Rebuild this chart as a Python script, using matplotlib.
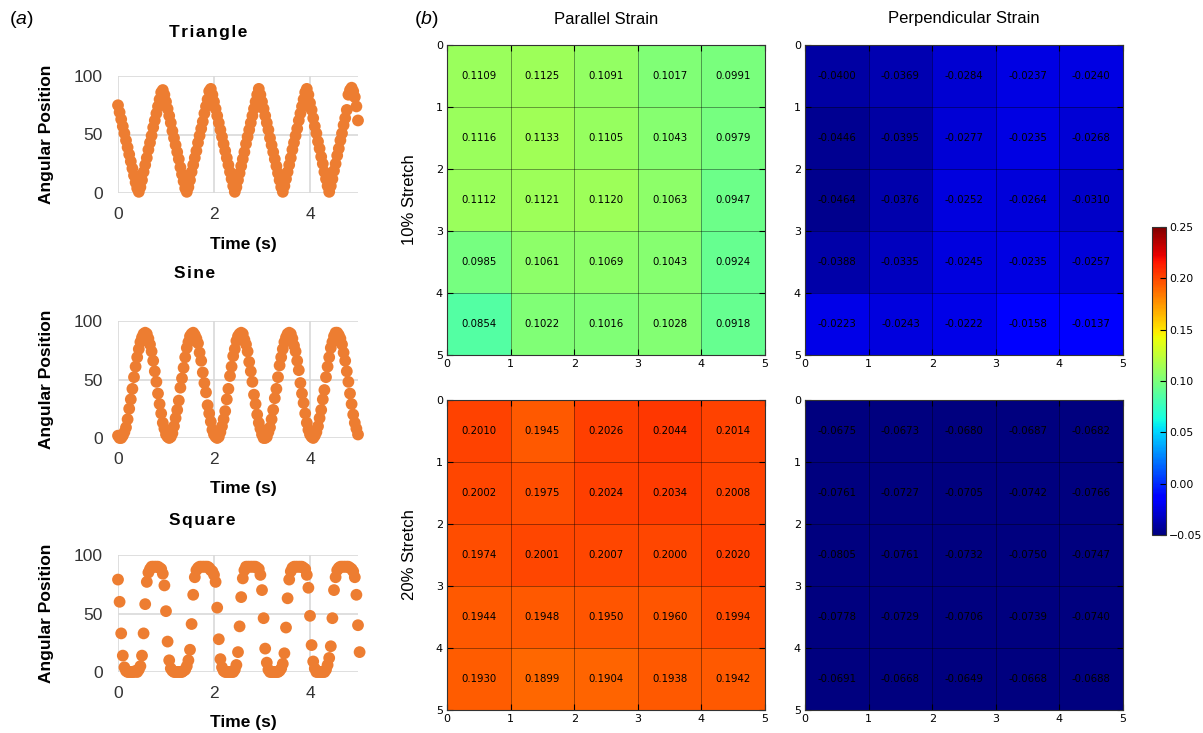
import matplotlib
matplotlib.use('Agg')
import matplotlib.pyplot as plt
import numpy as np

plt.rcParams['mathtext.fontset'] = 'custom'
plt.rcParams['mathtext.rm'] = 'Liberation Sans'
plt.rcParams['mathtext.it'] = 'Liberation Sans:italic'

# angular position samples, 30 frames per second
fps = 30.0
triangle = [75, 69, 63, 57, 51, 45, 39, 33, 27, 21, 15, 9, 4, 1,
            5, 11, 18, 24, 30, 37, 43, 49, 56, 62, 68, 74, 80, 86, 88,
            84, 78, 72, 66, 60, 53, 47, 41, 35, 29, 22, 16, 10, 4, 1,
            5, 11, 18, 24, 30, 36, 43, 49, 55, 61, 68, 74, 80, 87, 89,
            84, 78, 72, 66, 60, 54, 48, 42, 36, 30, 24, 18, 12, 6, 1,
            5, 11, 17, 23, 29, 35, 42, 48, 54, 60, 66, 72, 78, 84, 89,
            84, 78, 72, 66, 60, 54, 47, 41, 35, 29, 23, 17, 11, 5, 1,
            6, 12, 18, 24, 30, 37, 43, 49, 55, 62, 68, 74, 80, 86, 89,
            84, 77, 71, 64, 57, 51, 44, 38, 31, 25, 18, 12, 6, 1,
            6, 12, 19, 25, 32, 38, 45, 51, 58, 64, 71, 84, 88, 90, 87, 82, 74, 62]
sine = [2, 0, 0, 2, 5, 9, 16, 25, 33, 42, 52, 61, 69, 76, 82, 86, 89, 90, 89, 85, 80, 74, 66, 57, 48, 38, 29, 21, 13, 8,
        3, 1, 0, 1, 4, 10, 17, 24, 32, 43, 51, 60, 69, 77, 82, 87, 89, 90, 88, 85, 81, 73, 66, 56, 47, 39, 28, 21, 14, 7,
        3, 1, 0, 1, 5, 10, 16, 23, 33, 42, 53, 61, 70, 76, 83, 87, 89, 90, 89, 84, 80, 74, 65, 57, 48, 37, 29, 20, 13, 8,
        3, 0, 0, 1, 5, 9, 16, 24, 34, 42, 52, 62, 69, 76, 82, 86, 89, 90, 89, 85, 79, 74, 66, 58, 47, 38, 30, 21, 13, 7,
        3, 1, 0, 2, 5, 10, 17, 24, 33, 41, 52, 61, 69, 77, 82, 87, 90, 90, 88, 85, 80, 73, 66, 57, 48, 38, 29, 20, 13, 8,
        3]
square = [79, 60, 33, 14, 4, 1, 0, 0, 0, 0, 0, 1, 0, 2, 5,
          14, 33, 58, 77, 85, 88, 90, 90, 90, 90, 90, 89, 88, 84,
          74, 52, 26, 10, 3, 1, 0, 0, 0, 0, 0, 0, 1, 2, 5, 10,
          19, 41, 66, 81, 87, 89, 90, 90, 90, 90, 90, 90, 89, 87, 86, 83,
          77, 55, 28, 11, 4, 1, 0, 0, 0, 0, 0, 0, 2, 6,
          17, 39, 64, 80, 87, 90, 90, 90, 90, 90, 90, 90, 89, 88, 83,
          70, 46, 20, 8, 2, 0, 0, 0, 0, 0, 0, 1, 3, 7,
          16, 38, 63, 79, 86, 89, 90, 90, 90, 90, 90, 90, 89, 88, 83,
          72, 48, 23, 9, 3, 0, 0, 0, 0, 0, 0, 2, 6, 12,
          22, 46, 70, 81, 87, 89, 90, 90, 90, 90, 90, 90, 89, 88, 86, 81, 66, 40, 17]
wave_names = ['Triangle', 'Sine', 'Square']

# strain maps
col_titles = ['Parallel Strain', 'Perpendicular Strain']
row_titles = ['10% Stretch', '20% Stretch']
par_10 = [[0.1109, 0.1125, 0.1091, 0.1017, 0.0991],
          [0.1116, 0.1133, 0.1105, 0.1043, 0.0979],
          [0.1112, 0.1121, 0.1120, 0.1063, 0.0947],
          [0.0985, 0.1061, 0.1069, 0.1043, 0.0924],
          [0.0854, 0.1022, 0.1016, 0.1028, 0.0918]]
perp_10 = [[-0.0400, -0.0369, -0.0284, -0.0237, -0.0240],
           [-0.0446, -0.0395, -0.0277, -0.0235, -0.0268],
           [-0.0464, -0.0376, -0.0252, -0.0264, -0.0310],
           [-0.0388, -0.0335, -0.0245, -0.0235, -0.0257],
           [-0.0223, -0.0243, -0.0222, -0.0158, -0.0137]]
par_20 = [[0.2010, 0.1945, 0.2026, 0.2044, 0.2014],
          [0.2002, 0.1975, 0.2024, 0.2034, 0.2008],
          [0.1974, 0.2001, 0.2007, 0.2000, 0.2020],
          [0.1944, 0.1948, 0.1950, 0.1960, 0.1994],
          [0.1930, 0.1899, 0.1904, 0.1938, 0.1942]]
perp_20 = [[-0.0675, -0.0673, -0.0680, -0.0687, -0.0682],
           [-0.0761, -0.0727, -0.0705, -0.0742, -0.0766],
           [-0.0805, -0.0761, -0.0732, -0.0750, -0.0747],
           [-0.0778, -0.0729, -0.0706, -0.0739, -0.0740],
           [-0.0691, -0.0668, -0.0649, -0.0668, -0.0688]]
cbar_ticks = [-0.05, 0.00, 0.05, 0.10, 0.15, 0.20, 0.25]

W, H = 1203.0, 733.0
fig = plt.figure(figsize=(W / 100, H / 100), dpi=100)


def box(x0, y0, x1, y1):
    return [x0 / W, 1 - y1 / H, (x1 - x0) / W, (y1 - y0) / H]


arial = 'Liberation Sans'
orange = '#ED7D31'

# (a) waveforms
wave_vals = [triangle, sine, square]
wave_top = [76, 321, 555]
wave_title_y = [32, 273, 520]
wave_title_x = [208, 195, 202]
for name, vals, top, tty, ttx in zip(wave_names, wave_vals, wave_top, wave_title_y, wave_title_x):
    bot = top + 117
    ax = fig.add_axes(box(118, top, 358, bot))
    t = np.arange(len(vals)) / fps
    ax.scatter(t, vals, s=72, color=orange, edgecolors='none', clip_on=False, zorder=3)
    ax.set_xlim(0, 5)
    ax.set_ylim(0, 100)
    ax.set_xticks([0, 2, 4])
    ax.set_yticks([0, 50, 100])
    ax.grid(True, color='#d9d9d9', lw=1.2)
    ax.set_axisbelow(True)
    for s in ax.spines.values():
        s.set_visible(False)
    ax.tick_params(axis='both', length=0, labelsize=12.5, colors='#333333')
    ax.tick_params(axis='x', pad=10)
    ax.tick_params(axis='y', pad=11)
    for lab in ax.get_xticklabels() + ax.get_yticklabels():
        lab.set_family(arial)
    ax.set_ylabel('Angular Position', fontsize=12.5, fontweight='bold', family=arial)
    ax.yaxis.set_label_coords((47 - 118) / 240.0, 0.5)
    ax.yaxis.label.set_va('center')
    ax.set_xlabel('Time (s)', fontsize=12.5, fontweight='bold', family=arial)
    ax.xaxis.set_label_coords((243 - 118) / 240.0, -51 / 117.0)
    ax.xaxis.label.set_va('center')
    fig.text(ttx / W, 1 - tty / H, '\u200a'.join(name), ha='center', va='center',
             fontsize=12.5, fontweight='bold', family=arial)

fig.text(21 / W, 1 - 19 / H, r'($\mathit{a}$)', ha='center', va='center', fontsize=14, family=arial)
fig.text(426 / W, 1 - 19 / H, r'($\mathit{b}$)', ha='center', va='center', fontsize=14, family=arial)

# (b) strain maps
maps = [[par_10, perp_10], [par_20, perp_20]]
xs = [(447, 765), (805, 1123)]
ys = [(45, 355), (400, 710)]
for i in range(2):
    for j in range(2):
        ax = fig.add_axes(box(xs[j][0], ys[i][0], xs[j][1], ys[i][1]))
        arr = np.array(maps[i][j])
        im = ax.imshow(arr, cmap='jet', vmin=-0.05, vmax=0.25, extent=(0, 5, 5, 0),
                       interpolation='nearest', aspect='auto')
        for r in range(arr.shape[0]):
            for c in range(arr.shape[1]):
                ax.text(c + 0.5, r + 0.5, '%.4f' % arr[r, c], ha='center', va='center', fontsize=7.3)
        ax.set_xticks(range(6))
        ax.set_yticks(range(6))
        ax.grid(True, color='black', lw=0.6, alpha=0.45)
        ax.tick_params(direction='in', top=True, right=True, labelsize=8, length=4, pad=3)
        for s in ax.spines.values():
            s.set_color('#333333')

for j, name in enumerate(col_titles):
    fig.text((xs[j][0] + xs[j][1]) / 2 / W, 1 - 19 / H, name, ha='center', va='center',
             fontsize=12, family=arial)
for i, name in enumerate(row_titles):
    fig.text(410 / W, 1 - (ys[i][0] + ys[i][1]) / 2 / H, name, ha='center', va='center',
             rotation=90, fontsize=12, family=arial)

cax = fig.add_axes(box(1152, 227, 1166, 535))
cb = fig.colorbar(im, cax=cax, ticks=cbar_ticks)
cb.ax.tick_params(labelsize=7.8, direction='in', length=4, pad=2)
cb.outline.set_edgecolor('#333333')

fig.savefig('out.png', dpi=100)
